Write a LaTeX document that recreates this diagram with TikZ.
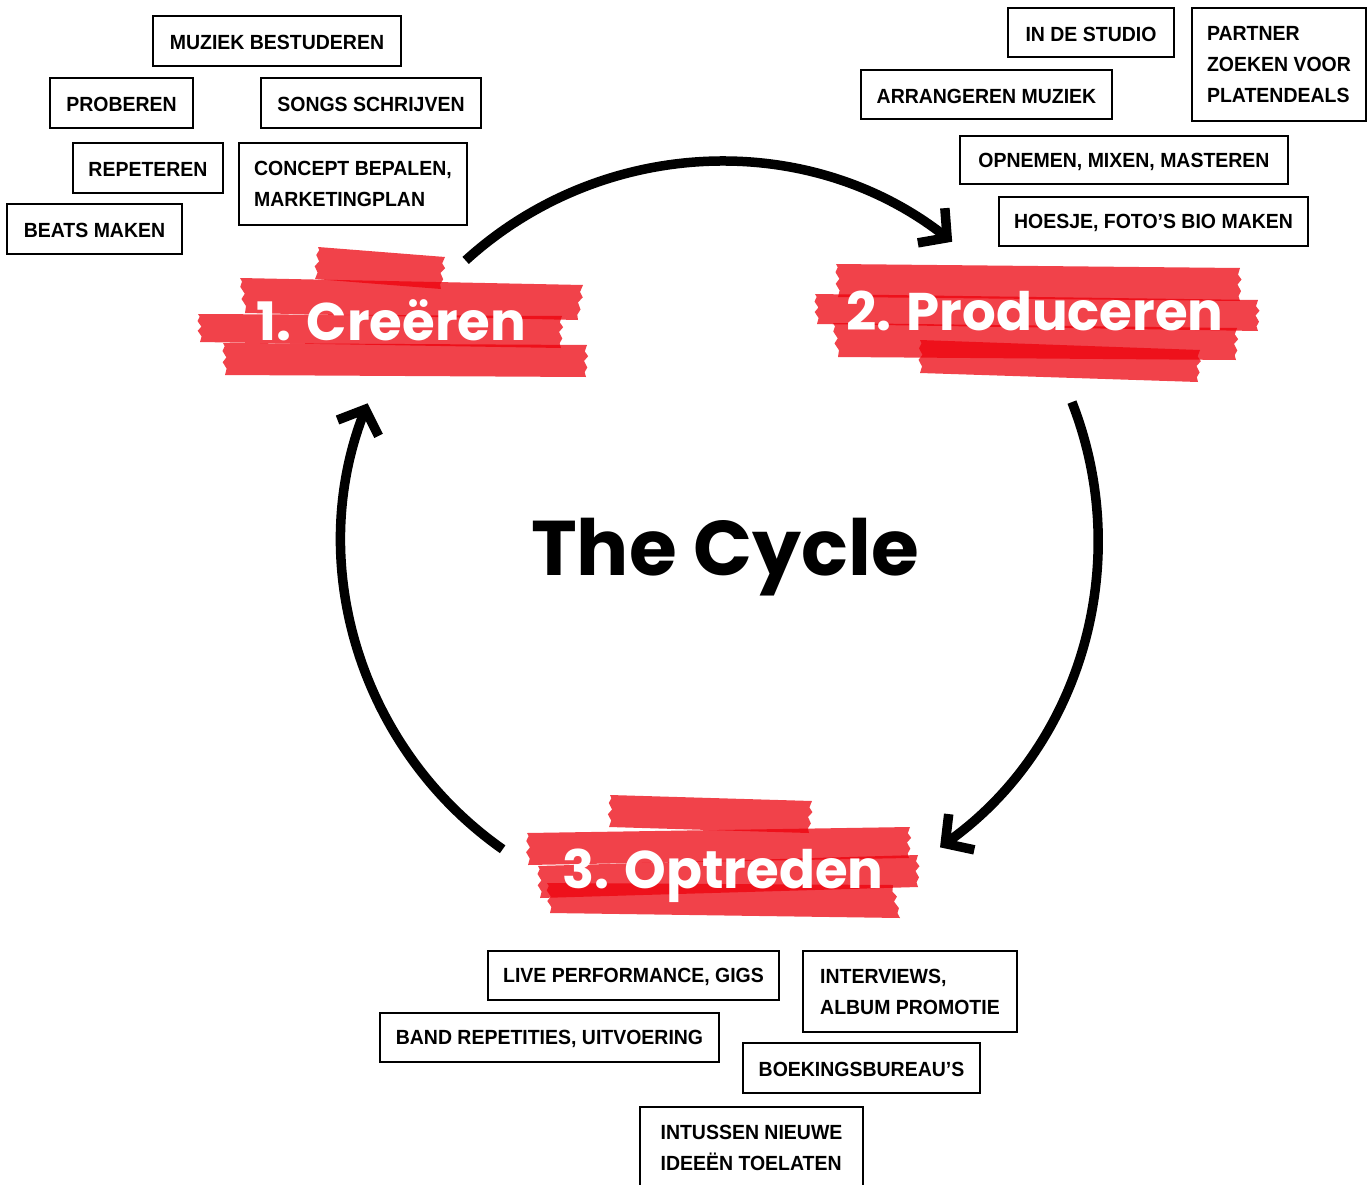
\documentclass[tikz,border=0pt]{standalone}
\usepackage{fontspec}
\setmainfont{Liberation Sans}
\newfontfamily\boxfont[FakeStretch=0.95]{Liberation Sans}
\newfontfamily\headfont{Poppins}
\usetikzlibrary{arrows.meta,calc}
\definecolor{tapebase}{RGB}{237,0,11}
\newcommand\tapestrip[4]{%
  \fill[tape] (#1) -- (#2)
   -- ($(#2)!0.2!(#3)+(-2,0)$) -- ($(#2)!0.35!(#3)+(1.5,0)$) -- ($(#2)!0.5!(#3)+(-2.5,0)$)
   -- ($(#2)!0.7!(#3)+(1,0)$) -- ($(#2)!0.85!(#3)+(-1.5,0)$)
   -- (#3) -- (#4)
   -- ($(#4)!0.2!(#1)+(2,0)$) -- ($(#4)!0.4!(#1)+(-1.5,0)$) -- ($(#4)!0.55!(#1)+(2.5,0)$)
   -- ($(#4)!0.75!(#1)+(-1,0)$) -- ($(#4)!0.9!(#1)+(1.5,0)$)
   -- cycle;}
\begin{document}
\begin{tikzpicture}[x=1pt,y=-1pt,
  tbox/.style={draw, line width=2.4pt, inner sep=0pt, align=left,
    font=\boxfont\bfseries\fontsize{20.5}{31}\selectfont,
    execute at begin node={\rule{0pt}{17.7pt}}},
  tape/.style={fill=tapebase, fill opacity=0.74},
  stagelabel/.style={text=white, font=\headfont\bfseries\fontsize{53}{60}\selectfont,
    inner sep=0pt, anchor=base},
  titlelabel/.style={text=black, font=\headfont\bfseries\fontsize{77.5}{85}\selectfont,
    inner sep=0pt, anchor=base},
  cyc/.style={line width=9.5pt, -{Straight Barb[length=20pt,width=44pt]}}]
\fill[white] (0,0) rectangle (1370,1185);
\useasboundingbox (0,0) rectangle (1370,1185);

% ---- tape strips: 1
\tapestrip{318,247}{445,257}{441,289}{315,279}
\tapestrip{240,278}{583,285}{578,320}{245,313}
\tapestrip{198,314}{562,316}{561,348}{200,342}
\tapestrip{223,343}{587,345}{586,377}{225,375}
% ---- tape strips: 2
\tapestrip{836,264}{1240,268}{1240,301}{838,297}
\tapestrip{815,294}{1258,300}{1258,331}{817,324}
\tapestrip{833,323}{1237,328}{1236,360}{838,357}
\tapestrip{920,340}{1200,350}{1198,382}{920,373}
% ---- tape strips: 3
\tapestrip{610,795}{812,801}{809,833}{609,827}
\tapestrip{527,833}{910,827}{909,858}{528,865}
\tapestrip{538,866}{918,855}{918,887}{540,898}
\tapestrip{547,883}{893,885}{900,918}{550,913}

% ---- stage labels
\node[stagelabel] (creeren) at (391.5,340) {1. Creëren};
\node[stagelabel] (produceren) at (1035,330) {2. Produceren};
\node[stagelabel] (optreden) at (723,888) {3. Optreden};
\node[titlelabel] (title) at (725,575) {The Cycle};

% ---- cycle arrows
\coordinate (cc) at (720,540);
\coordinate (a1) at ([shift={(-132.3:378)}]cc);
\coordinate (a2) at ([shift={(-21.4:378)}]cc);
\coordinate (a3) at ([shift={(125.1:378)}]cc);
\draw[cyc] (a1) arc[start angle=-132.3, end angle=-52.1, radius=378];
\draw[cyc] (a2) arc[start angle=-21.4, end angle=54.4, radius=378];
\draw[cyc] (a3) arc[start angle=125.1, end angle=201.2, radius=378];

% ---- boxes: Creeren
\node[tbox, minimum width=248, minimum height=50] (b1) at (277,41) {MUZIEK BESTUDEREN};
\node[tbox, minimum width=143, minimum height=50] (b2) at (121.5,103) {PROBEREN};
\node[tbox, minimum width=220, minimum height=50] (b3) at (371,103) {SONGS SCHRIJVEN};
\node[tbox, minimum width=150, minimum height=50] (b4) at (148,168) {REPETEREN};
\node[tbox, minimum width=228, minimum height=82] (b5) at (353,184) {CONCEPT BEPALEN,\\MARKETINGPLAN};
\node[tbox, minimum width=175, minimum height=50] (b6) at (94.5,229) {BEATS MAKEN};
% ---- boxes: Produceren
\node[tbox, minimum width=166, minimum height=49] (b7) at (1091,32.5) {IN DE STUDIO};
\node[tbox, minimum width=174, minimum height=113] (b8) at (1279,64.5) {PARTNER\\ZOEKEN VOOR\\PLATENDEALS};
\node[tbox, minimum width=251, minimum height=49] (b9) at (986.5,94.5) {ARRANGEREN MUZIEK};
\node[tbox, minimum width=328, minimum height=48] (b10) at (1124,160) {OPNEMEN, MIXEN, MASTEREN};
\node[tbox, minimum width=309, minimum height=49] (b11) at (1153.5,221.5) {HOESJE, FOTO’S BIO MAKEN};
% ---- boxes: Optreden
\node[tbox, minimum width=291, minimum height=49] (b12) at (633.5,975.5) {LIVE PERFORMANCE, GIGS};
\node[tbox, minimum width=214, minimum height=81] (b13) at (910,991.5) {INTERVIEWS,\\ALBUM PROMOTIE};
\node[tbox, minimum width=339, minimum height=49] (b14) at (549.5,1037.5) {BAND REPETITIES, UITVOERING};
\node[tbox, minimum width=237, minimum height=50] (b15) at (861.5,1068) {BOEKINGSBUREAU’S};
\node[tbox, minimum width=223, minimum height=82] (b16) at (751.5,1148) {INTUSSEN NIEUWE\\IDEEËN TOELATEN};
\end{tikzpicture}
\end{document}
